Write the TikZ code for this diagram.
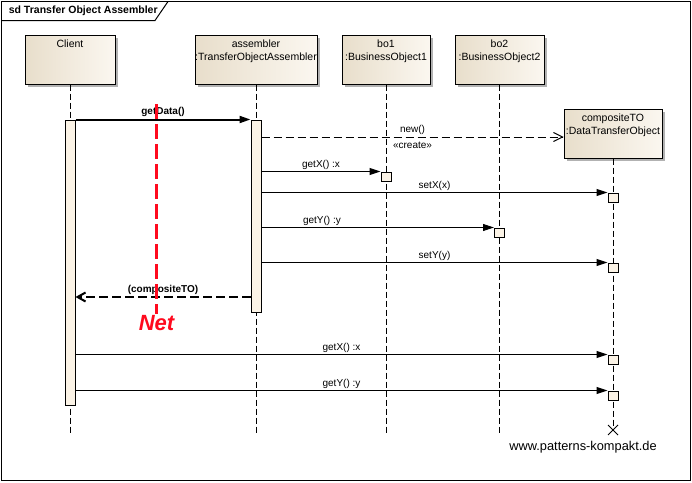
\documentclass[tikz,border=0pt]{standalone}
\usepackage{fontspec}
\setmainfont{Liberation Sans}
\usetikzlibrary{positioning,arrows.meta,shadows,shapes.misc}
\definecolor{headL}{HTML}{E8DECB}
\definecolor{headR}{HTML}{FBF7F0}
\definecolor{actfill}{HTML}{FBF3E6}
\definecolor{netred}{HTML}{FF0A1E}

\begin{document}
\begin{tikzpicture}[x=1pt, y=-1pt, line width=1pt,
  lbl/.style={anchor=north, align=center, inner sep=5pt, font=\fontsize{10.5}{13}\selectfont},
  msg/.style={-{Triangle[length=11pt,width=7pt]}},
  ret/.style={-{Straight Barb[length=8pt,width=9pt]}, line width=2pt, dash pattern=on 9pt off 4pt},
  create/.style={-{Straight Barb[length=9pt,width=9pt]}, dash pattern=on 8pt off 4pt}]
\tikzstyle{every node}=[font=\fontsize{10}{12}\selectfont]
\tikzstyle{head}=[draw, inner sep=0pt, left color=headL, right color=headR, minimum height=49pt,
  drop shadow={shadow xshift=3pt, shadow yshift=-3pt, fill=black!30, opacity=1}]
\tikzstyle{act}=[draw, fill=actfill, inner sep=0pt, minimum width=10pt]
\tikzstyle{exe}=[draw, fill=actfill, inner sep=0pt, minimum width=10pt, minimum height=9pt]
\tikzstyle{lifeline}=[dash pattern=on 6pt off 3pt]
\useasboundingbox (0,0) rectangle (692,482);
% frame
\draw (1.5,1.5) rectangle (690.5,480.5);
\draw (1.5,20.5) -- (155,20.5) -- (168,1.5);
\node[anchor=west, font=\fontsize{10.5}{12}\selectfont\bfseries] (title) at (5,11) {sd Transfer Object Assembler};
% heads
\node[head, minimum width=90pt, label={[lbl]north:Client}] (client) at (70,59.5) {};
\node[head, minimum width=122pt, label={[lbl]north:{assembler\\:TransferObjectAssembler}}] (assembler) at (256,59.5) {};
\node[head, minimum width=88pt, label={[lbl]north:{bo1\\:BusinessObject1}}] (bo1) at (386,59.5) {};
\node[head, minimum width=89pt, label={[lbl]north:{bo2\\:BusinessObject2}}] (bo2) at (499.5,59.5) {};
\node[head, minimum width=98pt, label={[lbl]north:{compositeTO\\:DataTransferObject}}] (cto) at (613,133.5) {};
% lifelines
\coordinate (client-end) at (70,433);
\coordinate (assembler-end) at (256,433);
\coordinate (bo1-end) at (386,433);
\coordinate (bo2-end) at (499.5,433);
\node[draw, cross out, minimum size=9pt, inner sep=0pt] (cto-end) at (613,430) {};
\foreach \h in {client,assembler,bo1,bo2}{\draw[lifeline] (\h.south) -- (\h-end);}
\draw[lifeline] (cto.south) -- (cto-end.center);
% activations
\node[act, minimum height=285pt] (clientact) at (70,262.5) {};
\node[act, minimum height=192pt] (asmact) at (256,216) {};
\node[exe] (bo1x) at (386,176.5) {};
\node[exe] (ctoa) at (613,197.5) {};
\node[exe] (bo2y) at (499.5,232.5) {};
\node[exe] (ctob) at (613,267.5) {};
\node[exe] (ctoc) at (613,359.5) {};
\node[exe] (ctod) at (613,395.5) {};
% messages
\draw[msg, line width=2pt] (clientact.north east) -- node[above, inner sep=1.5pt, font=\fontsize{10}{12}\selectfont\bfseries] {getData()} (asmact.north west);
\draw[create] (asmact.east |- 0,137) -- node[above, inner sep=1.5pt] {new()} node[below, inner sep=5pt] {«create»} (cto.west |- 0,137);
\foreach \tgt/\txt/\ps in {bo1x/getX() :x/0.5, ctoa/setX(x)/0.5, bo2y/getY() :y/0.26, ctob/setY(y)/0.5}
  {\draw[msg] (asmact.east |- \tgt.north) -- node[above, inner sep=1.5pt, pos=\ps] {\txt} (\tgt.north west);}
\draw[ret] (asmact.west |- 0,297) -- node[above, inner sep=1.5pt, font=\fontsize{10}{12}\selectfont\bfseries] {(compositeTO)} (clientact.east |- 0,297);
\foreach \tgt/\txt in {ctoc/getX() :x, ctod/getY() :y}
  {\draw[msg] (clientact.east |- \tgt.north) -- node[above, inner sep=1.5pt] {\txt} (\tgt.north west);}
% network boundary
\coordinate (nettop) at (156.5,104);
\node[text=netred, inner sep=1pt, font=\fontsize{22}{26}\selectfont\bfseries\itshape] (net) at (156.5,323) {Net};
\draw[netred, line width=3pt, dash pattern=on 15pt off 5pt] (nettop) -- (net.north);
\node[font=\fontsize{12.8}{15}\selectfont] (web) at (583,447) {www.patterns-kompakt.de};
\end{tikzpicture}
\end{document}
